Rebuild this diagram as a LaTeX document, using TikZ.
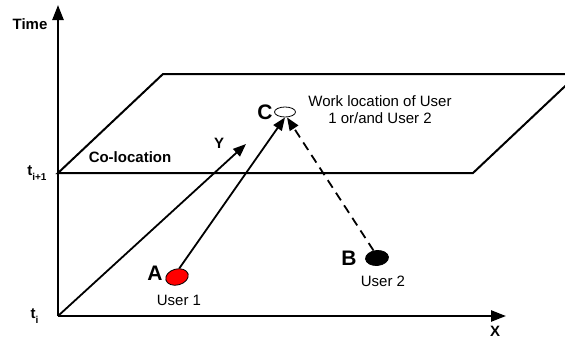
\documentclass[tikz,border=0pt]{standalone}
\usepackage{fontspec}
\setmainfont{Liberation Sans}
\usetikzlibrary{arrows.meta,shapes.geometric}
\begin{document}
\begin{tikzpicture}[x=1pt,y=-1pt,
  axis/.style={line width=2.4pt,-{Triangle[length=15pt,width=11pt]}},
  plane/.style={line width=2pt,line join=miter},
  link/.style={line width=1.8pt,-{Triangle[length=13pt,width=10pt]}},
  lbl/.style={font=\fontsize{15}{17}\selectfont},
  blbl/.style={font=\fontsize{15}{17}\selectfont\bfseries},
  big/.style={font=\fontsize{21}{23}\selectfont\bfseries},
  spot/.style={ellipse,draw=black,line width=0.8pt,inner sep=0pt}]
\useasboundingbox (0,0) rectangle (565,340);
\clip (0,0) rectangle (565,340);

% axes
\coordinate (O) at (58,316);
\coordinate (Ttop) at (58,5);
\coordinate (Xend) at (506,316);
\coordinate (Yend) at (246,144);
\draw[axis] (O) -- (Ttop);
\draw[axis] (O) -- (Xend);
\draw[link] (O) -- (Yend);

% co-location plane at t_{i+1}
\coordinate (P1) at (58,173);
\coordinate (P2) at (473,173);
\coordinate (P3) at (578,74);
\coordinate (P4) at (163,74);
\draw[plane] (P1) -- (P2) -- (P3) -- (P4) -- cycle;

% axis labels
\node[blbl] (time) at (30,24) {Time};
\node[blbl] (xlab) at (495,331) {X};
\node[blbl] (ylab) at (219,143) {Y};
\node[blbl,anchor=base east] (tip1) at (50,175) {t\raisebox{-5pt}{\fontsize{10}{11}\selectfont i+1}};
\node[blbl,anchor=base east] (ti) at (42,318) {t\raisebox{-5pt}{\fontsize{10}{11}\selectfont i}};
\node[blbl] (coloc) at (130,157) {Co-location};

% locations
\node[spot,fill=red,minimum width=23pt,minimum height=16pt,rotate=15] (A) at (177,277) {};
\node[spot,fill=black,minimum width=23pt,minimum height=15pt,rotate=5] (B) at (377,258) {};
\node[spot,fill=white,minimum width=21pt,minimum height=10pt] (C) at (285,112) {};

\node[big] (Alab) at (155,273) {A};
\node[big] (Blab) at (349,258) {B};
\node[big] (Clab) at (265,112) {C};
\node[lbl] (u1) at (179,300) {User 1};
\node[lbl] (u2) at (383,281) {User 2};
\node[lbl,align=center] (work) at (380,110) {Work location of User\\1 or/and User 2};

% moves to the shared location
\draw[link] (A.60) -- (C.south);
\draw[link,dashed,dash pattern=on 9pt off 6pt] (B.110) -- ([xshift=2pt]C.south);
\end{tikzpicture}
\end{document}
